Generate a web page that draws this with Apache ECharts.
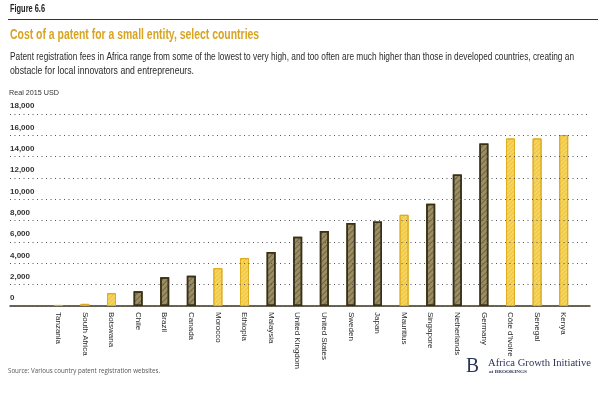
<!DOCTYPE html>
<html>
<head>
<meta charset="utf-8">
<script src="https://cdn.jsdelivr.net/npm/echarts@6/dist/echarts.min.js"></script>
<style>
  html, body { margin:0; padding:0; background:#fff; }
  #main { width:609px; height:399px; }
</style>
</head>
<body>
<div id="main"></div>
<script>
// countries, left to right
var countries = ['Tanzania','South Africa','Botswana','Chile','Brazil','Canada','Morocco','Ethiopia','Malaysia',
  'United Kingdom','United States','Sweden','Japan','Mauritius','Singapore','Netherlands','Germany',
  "Côte d'Ivoire",'Senegal','Kenya'];
// cost, real 2015 USD
var costs = [100,200,1200,1390,2700,2830,3550,4490,5060,6500,7040,7790,7920,8550,9590,12320,15240,15710,15710,16020];
// african countries are drawn in yellow
var african = [true,true,true,false,false,false,true,true,false,false,false,false,false,true,false,false,false,true,true,true];
var yTicks = [0,2000,4000,6000,8000,10000,12000,14000,16000,18000];

var sans = '"Liberation Sans","DejaVu Sans",sans-serif';
var serif = '"Liberation Serif","DejaVu Serif",serif';

// no condensed font installed: squeeze text horizontally to the width it has in the figure
var measureCtx = document.createElement('canvas').getContext('2d');
function squeeze(text, font, width) {
  measureCtx.font = font;
  return width / measureCtx.measureText(text).width;
}
function label(text, font, color, x, y, width) {
  return {
    type:'text', x:x, y:y, scaleX:squeeze(text, font, width), silent:true,
    style:{text:text, font:font, fill:color, verticalAlign:'middle', textVerticalAlign:'middle'}
  };
}

var subtitle1 = 'Patent registration fees in Africa range from some of the lowest to very high, and too often are much higher than those in developed countries, creating an';
var subtitle2 = 'obstacle for local innovators and entrepreneurs.';
var titleText = 'Cost of a patent for a small entity, select countries';

var myChart = echarts.init(document.getElementById('main'));

var yellowStyle = {
  color:'#f7d660', borderColor:'#dfab1f', borderWidth:1,
  decal:{symbol:'rect', symbolSize:1, dashArrayX:[1,0], dashArrayY:[1,2], rotation:-Math.PI/4, color:'rgba(224,170,30,0.45)'}
};
var darkStyle = {
  color:'#9a8e66', borderColor:'#3a3115', borderWidth:1.5,
  decal:{symbol:'rect', symbolSize:1, dashArrayX:[1,0], dashArrayY:[1,3], rotation:-Math.PI/4, color:'rgba(60,50,20,0.45)'}
};

var barData = [];
for (var i = 0; i < costs.length; i++) {
  barData.push({value:costs[i], itemStyle: african[i] ? yellowStyle : darkStyle});
}

var titleFont = 'bold 14px ' + sans;
var titleScale = squeeze('Cost of a patent for a small entity, sele', titleFont, 190);
var titleWidth = titleScale * (measureCtx.measureText(titleText).width);

myChart.setOption({
  animation:false,
  graphic:[
    label('Figure 6.6', 'bold 10.5px ' + sans, '#222', 10, 9.5, 35),
    {type:'line', shape:{x1:8, y1:19.5, x2:598, y2:19.5}, style:{stroke:'#3a3418', lineWidth:1}},
    label(titleText, titleFont, '#d9a422', 10, 35, titleWidth),
    label(subtitle1, '10.5px ' + sans, '#2a2a2a', 10, 57.5, 564),
    label(subtitle2, '10.5px ' + sans, '#2a2a2a', 10, 71, 184),
    label('Real 2015 USD', '7px ' + sans, '#333', 9, 93.5, 50),
    label('Source: Various country patent registration websites.', '7px "Open Sans",' + sans, '#555', 8, 371, 152),
    label('B', '22px ' + serif, '#2b3656', 466, 366, 13),
    label('Africa Growth Initiative', '10.5px ' + serif, '#2b3656', 488, 363, 103),
    label('at BROOKINGS', 'bold 5px ' + serif, '#2b3656', 489, 372, 38)
  ],
  grid:[
    {left:10, right:19, top:114, bottom:93},
    {left:45, right:32, top:114, bottom:93}
  ],
  xAxis:[{
    gridIndex:0, type:'value', min:0, max:1,
    axisLine:{show:true, lineStyle:{color:'#3a3418', width:1.5}},
    axisTick:{show:false}, axisLabel:{show:false}, splitLine:{show:false}
  },{
    gridIndex:1, type:'category', data:countries,
    axisLine:{show:false}, axisTick:{show:false},
    axisLabel:{rotate:-90, interval:0, margin:6, fontFamily:sans, fontSize:8, color:'#2a2a2a'}
  }],
  yAxis:[{
    gridIndex:0, type:'value', min:0, max:18000, interval:2000, z:5,
    axisLine:{show:false}, axisTick:{show:false},
    axisLabel:{inside:true, margin:0, verticalAlign:'bottom', padding:[0,0,4,0],
      fontFamily:sans, fontSize:8, fontWeight:'bold', color:'#333',
      formatter:function (v) { return yTicks.indexOf(v) >= 0 ? v.toLocaleString('en-US') : ''; }},
    splitLine:{show:true, lineStyle:{color:'#555', width:1, type:[1,3.5]}}
  },{
    gridIndex:1, type:'value', min:0, max:18000, show:false
  }],
  series:[{
    type:'bar', xAxisIndex:1, yAxisIndex:1, barWidth:9, data:barData
  }]
});
</script>
</body>
</html>
